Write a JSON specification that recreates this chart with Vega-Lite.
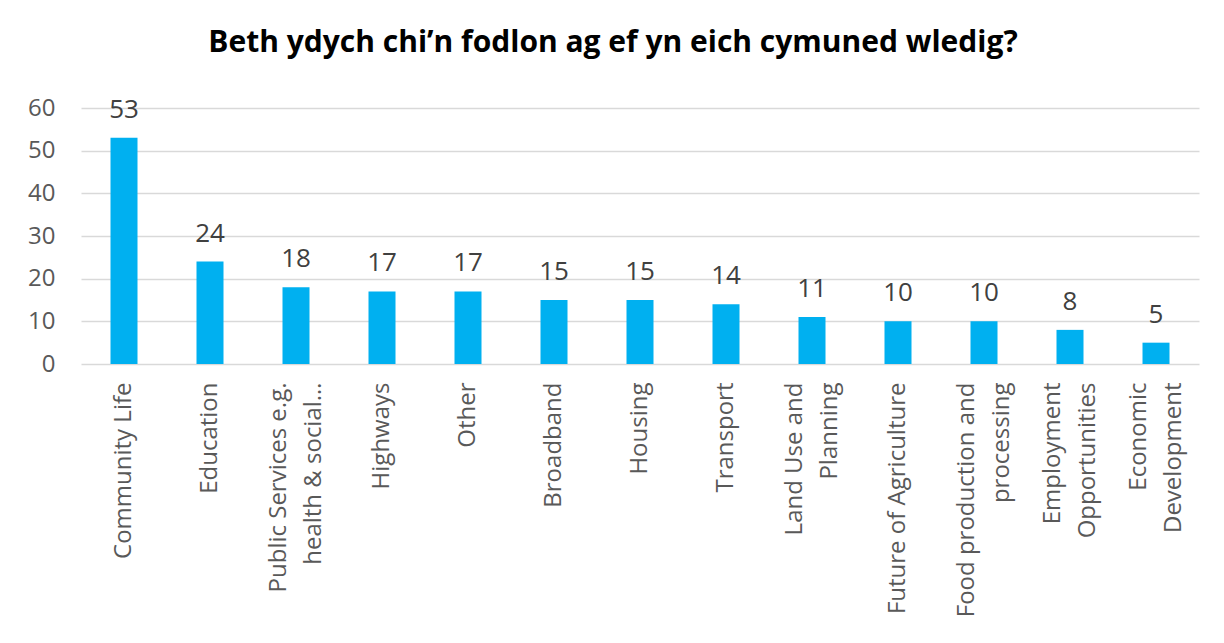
{
  "$schema": "https://vega.github.io/schema/vega-lite/v6.json",
  "autosize": "none",
  "width": 1118,
  "height": 256,
  "padding": {"left": 81, "top": 108, "right": 25, "bottom": 279},
  "background": "white",
  "title": {
    "text": "Beth ydych chi’n fodlon ag ef yn eich cymuned wledig?",
    "font": "Open Sans",
    "fontSize": 30,
    "fontWeight": "bold",
    "color": "#000000",
    "anchor": "middle",
    "dx": -27,
    "offset": 38
  },
  "data": {
    "values": [
      {"category": "Community Life", "value": 53},
      {"category": "Education", "value": 24},
      {"category": "Public Services e.g.\nhealth & social…", "value": 18},
      {"category": "Highways", "value": 17},
      {"category": "Other", "value": 17},
      {"category": "Broadband", "value": 15},
      {"category": "Housing", "value": 15},
      {"category": "Transport", "value": 14},
      {"category": "Land Use and\nPlanning", "value": 11},
      {"category": "Future of Agriculture", "value": 10},
      {"category": "Food production and\nprocessing", "value": 10},
      {"category": "Employment\nOpportunities", "value": 8},
      {"category": "Economic\nDevelopment", "value": 5}
    ]
  },
  "encoding": {
    "x": {
      "field": "category",
      "type": "nominal",
      "sort": null,
      "title": null,
      "scale": {"paddingInner": 0.686, "paddingOuter": 0.343},
      "axis": {
        "labelAngle": -90,
        "labelAlign": "right",
        "labelBaseline": "middle",
        "labelExpr": "split(datum.label, '\\n')",
        "labelFont": "Open Sans",
        "labelFontSize": 24,
        "labelColor": "#595959",
        "labelPadding": 18,
        "labelLimit": 400,
        "labelLineHeight": 35,
        "labelOffset": {"condition": {"test": "indexof(datum.label, '\\n') >= 0", "value": -17}, "value": 0},
        "ticks": false,
        "domain": false,
        "grid": false
      }
    },
    "y": {
      "field": "value",
      "type": "quantitative",
      "title": null,
      "scale": {"domain": [0, 60]},
      "axis": {
        "values": [0, 10, 20, 30, 40, 50, 60],
        "labelFont": "Open Sans",
        "labelFontSize": 24,
        "labelColor": "#595959",
        "labelPadding": 26,
        "ticks": false,
        "domain": false,
        "grid": true,
        "gridColor": "#d9d9d9",
        "gridWidth": 1.5
      }
    }
  },
  "layer": [
    {"mark": {"type": "bar", "color": "#00B0F0"}},
    {
      "mark": {
        "type": "text",
        "baseline": "alphabetic",
        "dy": -20,
        "font": "Open Sans",
        "fontSize": 26,
        "color": "#404040"
      },
      "encoding": {"text": {"field": "value", "type": "quantitative"}}
    }
  ],
  "config": {"view": {"stroke": null}}
}
